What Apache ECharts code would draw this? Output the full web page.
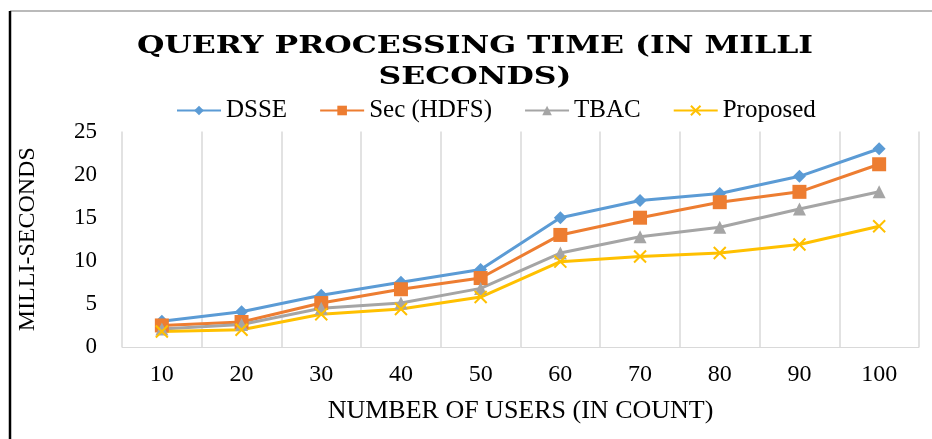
<!DOCTYPE html>
<html><head><meta charset="utf-8">
<script src="https://cdn.jsdelivr.net/npm/echarts@6/dist/echarts.min.js"></script>
<style>html,body{margin:0;padding:0;background:#fff}#c{width:932px;height:439px}</style>
</head><body><div id="c"></div>
<script>
const categories = ['10','20','30','40','50','60','70','80','90','100'];
const dsse = [3, 4.1, 6, 7.5, 9, 15, 17, 17.8, 19.8, 23];
const secHdfs = [2.5, 2.9, 5.1, 6.7, 8, 13, 15, 16.8, 18, 21.2];
const tbac = [2.1, 2.6, 4.5, 5.1, 6.8, 10.9, 12.8, 13.9, 16, 18];
const proposed = [1.8, 2, 3.8, 4.4, 5.8, 9.9, 10.5, 10.9, 11.9, 14];
const yTicks = [0, 5, 10, 15, 20, 25];
const titleText = 'QUERY PROCESSING TIME (IN MILLI\nSECONDS)';

const serif = '"Liberation Serif", "Times New Roman", serif';
const chart = echarts.init(document.getElementById('c'));
const xPath = 'path://M0,0L10,10M10,0L0,10';
chart.setOption({
  animation: false,
  backgroundColor: '#fff',
  legend: {
    top: 93, left: 171, itemWidth: 44, itemHeight: 12, itemGap: 32,
    textStyle: { fontFamily: serif, fontSize: 25, color: '#000' }
  },
  grid: { left: 122, right: 13, top: 131.5, bottom: 92 },
  xAxis: {
    type: 'category', data: categories, boundaryGap: true,
    name: 'NUMBER OF USERS (IN COUNT)', nameLocation: 'middle', nameGap: 51,
    nameTextStyle: { fontFamily: serif, fontSize: 26, color: '#000' },
    axisLine: { lineStyle: { color: '#d9d9d9' } },
    axisTick: { show: false },
    axisLabel: { fontFamily: serif, fontSize: 24, color: '#000', margin: 16 },
    splitLine: { show: true, lineStyle: { color: '#d9d9d9', width: 1.5 } }
  },
  yAxis: {
    type: 'value', min: yTicks[0], max: yTicks[yTicks.length - 1], interval: 5,
    name: 'MILLI-SECONDS', nameLocation: 'middle', nameGap: 82, nameRotate: 90,
    nameTextStyle: { fontFamily: serif, fontSize: 24, color: '#000' },
    axisLine: { show: false }, axisTick: { show: false },
    axisLabel: { fontFamily: serif, fontSize: 23, color: '#000', margin: 25 },
    splitLine: { show: false }
  },
  series: [
    { name: 'DSSE', type: 'line', data: dsse, symbol: 'diamond', symbolSize: 13,
      lineStyle: { color: '#5B9BD5', width: 3 }, itemStyle: { color: '#5B9BD5' } },
    { name: 'Sec (HDFS)', type: 'line', data: secHdfs, symbol: 'rect', symbolSize: 14,
      lineStyle: { color: '#ED7D31', width: 3 }, itemStyle: { color: '#ED7D31' } },
    { name: 'TBAC', type: 'line', data: tbac, symbol: 'triangle', symbolSize: 13,
      lineStyle: { color: '#A5A5A5', width: 3 }, itemStyle: { color: '#A5A5A5' } },
    { name: 'Proposed', type: 'line', data: proposed, symbol: xPath, symbolSize: 12,
      lineStyle: { color: '#FFC000', width: 3 },
      itemStyle: { color: '#FFC000', borderColor: '#FFC000', borderWidth: 2 } }
  ],
  graphic: [
    { type: 'line', shape: { x1: 10, y1: 11, x2: 932, y2: 11 }, style: { stroke: '#777', lineWidth: 1.2 } },
    { type: 'line', shape: { x1: 10, y1: 11, x2: 10, y2: 439 }, style: { stroke: '#000', lineWidth: 2.5 } },
    { type: 'text', x: 475, y: 31, scaleX: 1.26, originX: 0, originY: 0,
      style: { text: titleText, font: 'bold 25px "DejaVu Serif", serif', lineHeight: 31,
               fill: '#000', align: 'center', verticalAlign: 'top' } }
  ]
});
</script></body></html>
